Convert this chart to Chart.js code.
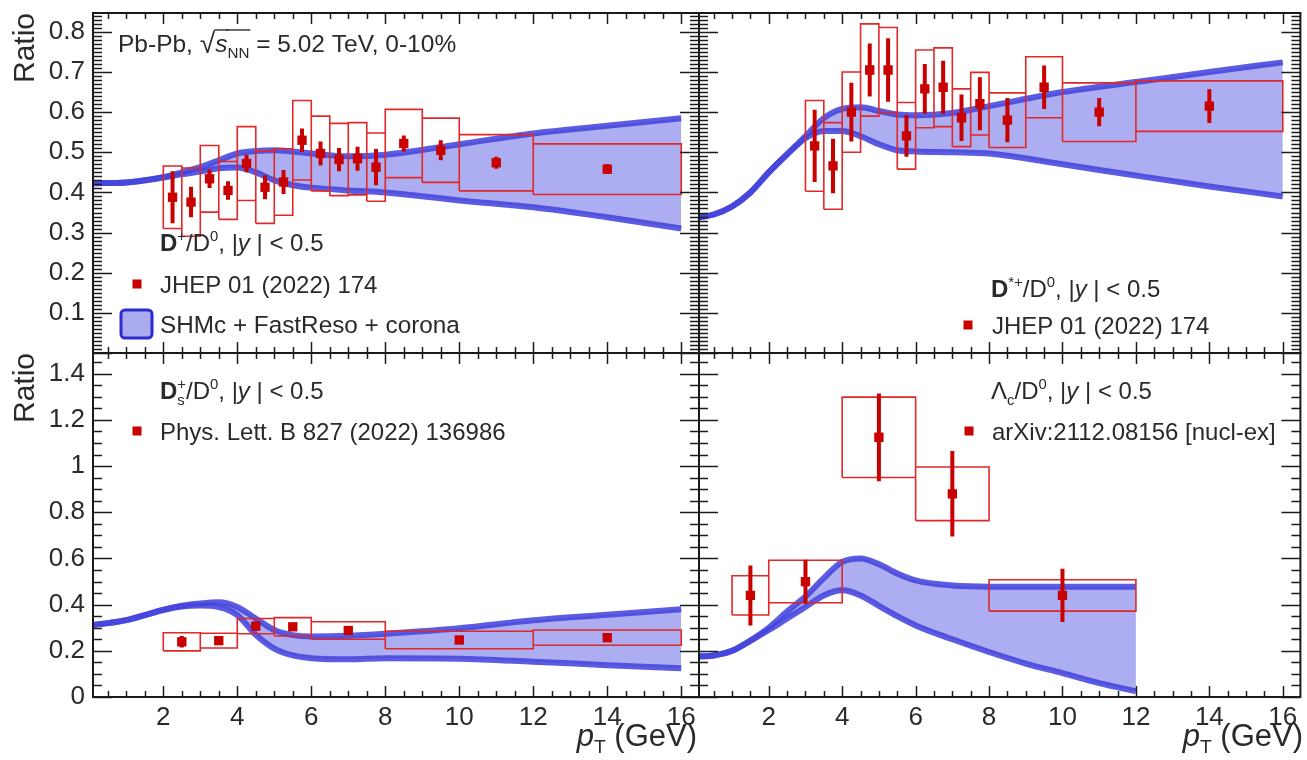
<!DOCTYPE html>
<html>
<head>
<meta charset="utf-8">
<title>Charm hadron ratios in Pb-Pb</title>
<script src="https://cdn.jsdelivr.net/npm/chart.js@4.4.1/dist/chart.umd.min.js"></script>
<style>
  html, body { margin: 0; padding: 0; background: #ffffff; }
  #wrap { position: relative; width: 1307px; height: 760px; overflow: hidden; background: #ffffff; }
  #wrap canvas { position: absolute; left: 0; top: 0; }
</style>
</head>
<body>
<div id="wrap">
  <canvas id="cTL" width="1307" height="760"></canvas>
  <canvas id="cTR" width="1307" height="760"></canvas>
  <canvas id="cBL" width="1307" height="760"></canvas>
  <canvas id="cBR" width="1307" height="760"></canvas>
</div>
<script>
// ---------- axis ticks ----------
const xTickValues = [2, 4, 6, 8, 10, 12, 14, 16];
const xTickLabels = ['2', '4', '6', '8', '10', '12', '14', '16'];
const topYTickValues = [0.1, 0.2, 0.3, 0.4, 0.5, 0.6, 0.7, 0.8];
const topYTickLabels = ['0.1', '0.2', '0.3', '0.4', '0.5', '0.6', '0.7', '0.8'];
const bottomYTickValues = [0, 0.2, 0.4, 0.6, 0.8, 1.0, 1.2, 1.4];
const bottomYTickLabels = ['0', '0.2', '0.4', '0.6', '0.8', '1', '1.2', '1.4'];

// ---------- D+/D0 (JHEP 01 (2022) 174) ----------
const dplusBinLo = [2, 2.5, 3, 3.5, 4, 4.5, 5, 5.5, 6, 6.5, 7, 7.5, 8, 9, 10, 12];
const dplusBinHi = [2.5, 3, 3.5, 4, 4.5, 5, 5.5, 6, 6.5, 7, 7.5, 8, 9, 10, 12, 16];
const dplusPt    = [2.25, 2.75, 3.25, 3.75, 4.25, 4.75, 5.25, 5.75, 6.25, 6.75, 7.25, 7.75, 8.5, 9.5, 11, 14];
const dplusVal   = [0.388, 0.376, 0.434, 0.405, 0.472, 0.413, 0.426, 0.530, 0.497, 0.482, 0.484, 0.463, 0.522, 0.505, 0.474, 0.458];
const dplusStat  = [0.065, 0.038, 0.023, 0.023, 0.022, 0.030, 0.030, 0.029, 0.030, 0.029, 0.030, 0.045, 0.020, 0.025, 0.015, 0.012];
const dplusSyst  = [0.078, 0.085, 0.083, 0.072, 0.092, 0.090, 0.083, 0.099, 0.093, 0.090, 0.090, 0.085, 0.085, 0.080, 0.070, 0.063];

// ---------- D*+/D0 (JHEP 01 (2022) 174) ----------
const dstarBinLo = [3, 3.5, 4, 4.5, 5, 5.5, 6, 6.5, 7, 7.5, 8, 9, 10, 12];
const dstarBinHi = [3.5, 4, 4.5, 5, 5.5, 6, 6.5, 7, 7.5, 8, 9, 10, 12, 16];
const dstarPt    = [3.25, 3.75, 4.25, 4.75, 5.25, 5.75, 6.25, 6.75, 7.25, 7.75, 8.5, 9.5, 11, 14];
const dstarVal   = [0.516, 0.466, 0.600, 0.705, 0.705, 0.541, 0.658, 0.662, 0.586, 0.621, 0.580, 0.662, 0.600, 0.615];
const dstarStat  = [0.090, 0.068, 0.073, 0.066, 0.079, 0.052, 0.062, 0.066, 0.058, 0.066, 0.055, 0.054, 0.035, 0.042];
const dstarSyst  = [0.113, 0.108, 0.100, 0.115, 0.106, 0.083, 0.097, 0.098, 0.072, 0.078, 0.068, 0.076, 0.073, 0.063];

// ---------- Ds+/D0 (Phys. Lett. B 827 (2022) 136986) ----------
const dsBinLo = [2, 3, 4, 5, 6, 8, 12];
const dsBinHi = [3, 4, 5, 6, 8, 12, 16];
const dsPt    = [2.5, 3.5, 4.5, 5.5, 7, 10, 14];
const dsVal   = [0.239, 0.244, 0.307, 0.304, 0.288, 0.247, 0.257];
const dsStat  = [0.025, 0.015, 0.018, 0.015, 0.012, 0.012, 0.012];
const dsSyst  = [0.039, 0.032, 0.033, 0.040, 0.038, 0.038, 0.033];

// ---------- Lambda_c/D0 (arXiv:2112.08156) ----------
const lcBinLo = [1, 2, 4, 6, 8];
const lcBinHi = [2, 4, 6, 8, 12];
const lcPt    = [1.5, 3, 5, 7, 10];
const lcVal   = [0.44, 0.50, 1.125, 0.88, 0.44];
const lcStat  = [0.13, 0.095, 0.19, 0.185, 0.115];
const lcSyst  = [0.085, 0.092, 0.174, 0.116, 0.068];

// ---------- SHMc + FastReso + corona bands ----------
const dplusModelPt = [0.1, 1, 2, 2.5, 3, 3.5, 4, 4.5, 5, 5.5, 6, 7, 8, 10, 12, 14, 16];
const dplusModelHi = [0.423, 0.425, 0.438, 0.450, 0.463, 0.480, 0.497, 0.503, 0.505, 0.502, 0.497, 0.490, 0.494, 0.520, 0.547, 0.566, 0.585];
const dplusModelLo = [0.423, 0.425, 0.437, 0.445, 0.452, 0.460, 0.462, 0.450, 0.430, 0.418, 0.412, 0.405, 0.400, 0.380, 0.363, 0.338, 0.310];

const dstarModelPt = [0.1, 0.5, 1, 1.5, 2, 2.5, 3, 3.5, 4, 4.5, 5, 5.5, 6, 7, 8, 10, 12, 14, 16];
const dstarModelHi = [0.338, 0.345, 0.365, 0.400, 0.450, 0.495, 0.540, 0.585, 0.608, 0.612, 0.603, 0.594, 0.592, 0.598, 0.615, 0.650, 0.675, 0.700, 0.724];
const dstarModelLo = [0.338, 0.345, 0.365, 0.400, 0.450, 0.495, 0.535, 0.553, 0.553, 0.540, 0.520, 0.505, 0.502, 0.500, 0.497, 0.470, 0.442, 0.415, 0.390];

const dsModelPt = [0.1, 0.5, 1, 1.5, 2, 2.5, 3, 3.5, 4, 4.5, 5, 5.5, 6, 7, 8, 10, 12, 14, 16];
const dsModelHi = [0.312, 0.320, 0.333, 0.355, 0.377, 0.395, 0.405, 0.410, 0.390, 0.340, 0.290, 0.268, 0.262, 0.265, 0.274, 0.298, 0.332, 0.356, 0.380];
const dsModelLo = [0.312, 0.320, 0.333, 0.355, 0.377, 0.392, 0.396, 0.390, 0.355, 0.270, 0.210, 0.180, 0.168, 0.163, 0.168, 0.166, 0.153, 0.138, 0.124];

const lcModelPt = [0.1, 0.5, 1, 1.5, 2, 2.5, 3, 3.5, 4, 4.5, 5, 5.5, 6, 7, 8, 9, 10, 11, 12];
const lcModelHi = [0.176, 0.180, 0.200, 0.245, 0.300, 0.370, 0.435, 0.515, 0.585, 0.600, 0.575, 0.535, 0.505, 0.483, 0.478, 0.478, 0.478, 0.478, 0.478];
const lcModelLo = [0.176, 0.180, 0.200, 0.243, 0.290, 0.340, 0.390, 0.440, 0.462, 0.440, 0.395, 0.350, 0.310, 0.250, 0.195, 0.145, 0.103, 0.060, 0.025];

// ---------- styling / layout ----------
const FONT = '"Liberation Sans", Arial, Helvetica, sans-serif';
const TEXT = '#2a2a2a';
const DATA_RED = '#c80000';
const BOX_RED = '#e02828';
const BAND_LINE = 'rgba(70, 70, 222, 0.88)';
const BAND_FILL = 'rgba(92, 92, 228, 0.5)';
const X_MIN = 0.1, X_MAX = 16.48;
const Y_TOP_MAX = 0.847, Y_BOT_MAX = 1.49;
const W = 1307, H = 760;
const LEFT = 93, MIDX = 699, RIGHT = 1303, TOP = 13, MIDY = 353, BOTTOM = 697;
const TICK_FONT = 26;

Chart.defaults.font.family = FONT;
Chart.defaults.color = TEXT;

// ---------- dataset builders ----------
function pointsSet(pt, val) {
  return {
    label: 'data', data: pt.map((x, i) => ({ x, y: val[i] })),
    showLine: false, pointStyle: 'rect', pointRadius: 6.6, pointHoverRadius: 6.6,
    backgroundColor: DATA_RED, borderWidth: 0
  };
}
function statSet(pt, val, err) {
  const d = [];
  pt.forEach((x, i) => {
    d.push({ x, y: val[i] - err[i] }, { x, y: val[i] + err[i] }, { x, y: null });
  });
  return {
    label: 'stat', data: d, showLine: true, spanGaps: false, pointRadius: 0,
    borderColor: DATA_RED, borderWidth: 4, borderCapStyle: 'butt', tension: 0
  };
}
function systSet(lo, hi, val, err) {
  const d = [];
  lo.forEach((x0, i) => {
    const x1 = hi[i], y0 = val[i] - err[i], y1 = val[i] + err[i];
    d.push({ x: x0, y: y0 }, { x: x1, y: y0 }, { x: x1, y: y1 }, { x: x0, y: y1 }, { x: x0, y: y0 }, { x: x0, y: null });
  });
  return {
    label: 'syst', data: d, showLine: true, spanGaps: false, pointRadius: 0,
    borderColor: BOX_RED, borderWidth: 1.6, tension: 0, borderJoinStyle: 'miter'
  };
}
function bandSets(pt, hi, lo) {
  const common = {
    showLine: true, pointRadius: 0, borderColor: BAND_LINE, borderWidth: 6,
    cubicInterpolationMode: 'monotone', borderCapStyle: 'butt'
  };
  return [
    Object.assign({ label: 'model upper', data: pt.map((x, i) => ({ x, y: hi[i] })), fill: '+1', backgroundColor: BAND_FILL }, common),
    Object.assign({ label: 'model lower', data: pt.map((x, i) => ({ x, y: lo[i] })), fill: false }, common)
  ];
}

// ---------- rich text (super/subscripts, italics, bold) ----------
function fontStr(size, p) {
  return (p.i ? 'italic ' : '') + (p.b ? 'bold ' : '') + size + 'px ' + FONT;
}
function partWidth(ctx, p, size) {
  if (p.stack) {
    ctx.font = fontStr(size * 0.62, {});
    return Math.max(ctx.measureText(p.sup).width, ctx.measureText(p.sub).width);
  }
  const s = (p.sup || p.sub) ? size * 0.62 : size * (p.scale || 1);
  ctx.font = fontStr(s, p);
  return ctx.measureText(p.t).width;
}
function richWidth(ctx, parts, size) {
  return parts.reduce((w, p) => w + partWidth(ctx, p, size), 0);
}
function drawRich(ctx, x, y, parts, size, align) {
  let cx = align === 'right' ? x - richWidth(ctx, parts, size) : x;
  ctx.save();
  ctx.fillStyle = TEXT;
  ctx.strokeStyle = TEXT;
  ctx.textBaseline = 'alphabetic';
  ctx.textAlign = 'left';
  for (const p of parts) {
    const w = partWidth(ctx, p, size);
    if (p.stack) {
      ctx.font = fontStr(size * 0.62, {});
      ctx.fillText(p.sup, cx, y - size * 0.40);
      ctx.fillText(p.sub, cx, y + size * 0.24);
    } else {
      const s = (p.sup || p.sub) ? size * 0.62 : size * (p.scale || 1);
      ctx.font = fontStr(s, p);
      const dy = p.sup ? -size * 0.42 : (p.sub ? size * 0.24 : (p.dy || 0) * size);
      ctx.fillText(p.t, cx, y + dy);
      if (p.over) {
        ctx.lineWidth = 1.4;
        ctx.beginPath();
        ctx.moveTo(cx - 1, y - size * 0.9);
        ctx.lineTo(cx + w + 1, y - size * 0.9);
        ctx.stroke();
      }
    }
    cx += w;
  }
  ctx.restore();
}

// ---------- frame + inward tick marks on all four sides ----------
const frameTicks = {
  id: 'frameTicks',
  afterDatasetsDraw(chart, args, opts) {
    const { ctx, chartArea: a } = chart;
    const xs = chart.scales.x, ys = chart.scales.y;
    ctx.save();
    ctx.strokeStyle = '#1c1c1c';
    ctx.lineWidth = 1.5;
    ctx.beginPath();
    const xStepMinor = opts.xMinor, xStepMajor = opts.xMajor;
    for (let k = Math.ceil(xs.min / xStepMinor - 1e-9); k * xStepMinor <= xs.max + 1e-9; k++) {
      const v = k * xStepMinor;
      const major = Math.abs(v / xStepMajor - Math.round(v / xStepMajor)) < 1e-6;
      const len = major ? 11 : 6;
      const px = Math.round(xs.getPixelForValue(v)) + 0.5;
      ctx.moveTo(px, a.bottom); ctx.lineTo(px, a.bottom - len);
      ctx.moveTo(px, a.top); ctx.lineTo(px, a.top + len);
    }
    const yStepMinor = opts.yMinor, yStepMajor = opts.yMajor;
    for (let k = Math.ceil(ys.min / yStepMinor - 1e-9); k * yStepMinor <= ys.max + 1e-9; k++) {
      const v = k * yStepMinor;
      const major = Math.abs(v / yStepMajor - Math.round(v / yStepMajor)) < 1e-6;
      const len = major ? 19 : 9;
      const py = Math.round(ys.getPixelForValue(v)) + 0.5;
      ctx.moveTo(a.left, py); ctx.lineTo(a.left + len, py);
      ctx.moveTo(a.right, py); ctx.lineTo(a.right - len, py);
    }
    ctx.stroke();
    ctx.lineWidth = 2;
    ctx.strokeStyle = '#1a1a1a';
    ctx.strokeRect(a.left, a.top, a.right - a.left, a.bottom - a.top);
    ctx.restore();
  }
};

// ---------- labels drawn inside each panel ----------
const annotations = {
  id: 'annotations',
  afterDraw(chart, args, opts) {
    if (opts.draw) opts.draw(chart.ctx, chart);
  }
};

function legendMarker(ctx, x, y) {
  ctx.save();
  ctx.fillStyle = DATA_RED;
  ctx.fillRect(x - 4.5, y - 4.5, 9, 9);
  ctx.restore();
}
function plainText(ctx, x, y, t, size) {
  ctx.save();
  ctx.font = size + 'px ' + FONT;
  ctx.fillStyle = TEXT;
  ctx.textBaseline = 'alphabetic';
  ctx.fillText(t, x, y);
  ctx.restore();
}
const ptTitle = [{ t: 'p', i: true }, { t: 'T', sub: true }, { t: ' (GeV)' }];
const rapidity = [{ t: ', |' }, { t: 'y', i: true }, { t: ' | < 0.5' }];

// ---------- panel factory ----------
function makePanel(id, cfg) {
  const showX = cfg.showXLabels, showY = cfg.showYLabels;
  const yW = showY ? LEFT : 0;
  const xH = showX ? 60 : 0;
  return new Chart(document.getElementById(id), {
    type: 'scatter',
    data: { datasets: cfg.datasets },
    plugins: [frameTicks, annotations],
    options: {
      responsive: false, animation: false, events: [], devicePixelRatio: 1,
      layout: { padding: { left: cfg.area.left - yW, top: cfg.area.top, right: W - cfg.area.right, bottom: H - cfg.area.bottom - xH } },
      plugins: {
        legend: { display: false }, tooltip: { enabled: false },
        filler: { drawTime: 'beforeDatasetsDraw' },
        frameTicks: { xMinor: 0.5, xMajor: 2, yMinor: cfg.yMinor, yMajor: cfg.yMajor },
        annotations: { draw: cfg.draw }
      },
      scales: {
        x: {
          type: 'linear', min: X_MIN, max: X_MAX,
          afterBuildTicks: s => { s.ticks = xTickValues.map(v => ({ value: v })); },
          afterFit: s => { s.height = xH; s.paddingLeft = 0; s.paddingRight = 0; },
          grid: { display: false }, border: { display: false },
          ticks: {
            display: showX, autoSkip: false, maxRotation: 0, padding: -3,
            font: { size: TICK_FONT }, color: TEXT,
            callback: (v, i) => xTickLabels[i]
          }
        },
        y: {
          type: 'linear', min: 0, max: cfg.yMax,
          afterBuildTicks: s => { s.ticks = cfg.yTicks.map(v => ({ value: v })); },
          afterFit: s => { s.width = yW; s.paddingTop = 0; s.paddingBottom = 0; },
          grid: { display: false }, border: { display: false },
          title: {
            display: showY, text: 'Ratio', align: 'end', color: TEXT,
            font: { size: 30 }, padding: { top: 8, bottom: 0 }
          },
          ticks: {
            display: showY, autoSkip: false, padding: 0,
            font: { size: TICK_FONT }, color: TEXT,
            callback: (v, i) => cfg.yLabels[i]
          }
        }
      }
    }
  });
}

// top left: D+/D0
makePanel('cTL', {
  area: { left: LEFT, right: MIDX, top: TOP, bottom: MIDY },
  showXLabels: false, showYLabels: true,
  yMax: Y_TOP_MAX, yTicks: topYTickValues, yLabels: topYTickLabels, yMinor: 0.01, yMajor: 0.1,
  datasets: [
    pointsSet(dplusPt, dplusVal),
    statSet(dplusPt, dplusVal, dplusStat),
    systSet(dplusBinLo, dplusBinHi, dplusVal, dplusSyst),
    ...bandSets(dplusModelPt, dplusModelHi, dplusModelLo)
  ],
  draw(ctx) {
    drawRich(ctx, 118, 52, [
      { t: 'Pb-Pb, ' }, { t: '\u221A', scale: 1.15, dy: 0.06 }, { t: 's', i: true, over: true }, { t: 'NN', sub: true, over: true },
      { t: ' = 5.02 TeV, 0-10%' }
    ], 24.5);
    drawRich(ctx, 160, 251, [{ t: 'D', b: true }, { t: '+', sup: true }, { t: '/D' }, { t: '0', sup: true }, ...rapidity], 24);
    legendMarker(ctx, 137, 284);
    plainText(ctx, 160, 293, 'JHEP 01 (2022) 174', 24);
    ctx.save();
    ctx.beginPath();
    ctx.roundRect(121, 310, 31, 28, 4);
    ctx.fillStyle = '#aaaaee';
    ctx.fill();
    ctx.lineWidth = 3;
    ctx.strokeStyle = '#2c2cd0';
    ctx.stroke();
    ctx.restore();
    plainText(ctx, 160, 333, 'SHMc + FastReso + corona', 24.3);
  }
});

// top right: D*+/D0
makePanel('cTR', {
  area: { left: MIDX, right: RIGHT, top: TOP, bottom: MIDY },
  showXLabels: false, showYLabels: false,
  yMax: Y_TOP_MAX, yTicks: topYTickValues, yLabels: topYTickLabels, yMinor: 0.01, yMajor: 0.1,
  datasets: [
    pointsSet(dstarPt, dstarVal),
    statSet(dstarPt, dstarVal, dstarStat),
    systSet(dstarBinLo, dstarBinHi, dstarVal, dstarSyst),
    ...bandSets(dstarModelPt, dstarModelHi, dstarModelLo)
  ],
  draw(ctx) {
    drawRich(ctx, 991, 297, [{ t: 'D', b: true }, { t: '*+', sup: true }, { t: '/D' }, { t: '0', sup: true }, ...rapidity], 24);
    legendMarker(ctx, 968, 325);
    plainText(ctx, 992, 334, 'JHEP 01 (2022) 174', 24);
  }
});

// bottom left: Ds+/D0
makePanel('cBL', {
  area: { left: LEFT, right: MIDX, top: MIDY, bottom: BOTTOM },
  showXLabels: true, showYLabels: true,
  yMax: Y_BOT_MAX, yTicks: bottomYTickValues, yLabels: bottomYTickLabels, yMinor: 0.05, yMajor: 0.2,
  datasets: [
    pointsSet(dsPt, dsVal),
    statSet(dsPt, dsVal, dsStat),
    systSet(dsBinLo, dsBinHi, dsVal, dsSyst),
    ...bandSets(dsModelPt, dsModelHi, dsModelLo)
  ],
  draw(ctx) {
    drawRich(ctx, 160, 399, [{ t: 'D', b: true }, { stack: true, sup: '+', sub: 's' }, { t: '/D' }, { t: '0', sup: true }, ...rapidity], 24);
    legendMarker(ctx, 137, 431);
    plainText(ctx, 160, 440, 'Phys. Lett. B 827 (2022) 136986', 24);
    drawRich(ctx, 697, 746, ptTitle, 31, 'right');
  }
});

// bottom right: Lambda_c/D0
makePanel('cBR', {
  area: { left: MIDX, right: RIGHT, top: MIDY, bottom: BOTTOM },
  showXLabels: true, showYLabels: false,
  yMax: Y_BOT_MAX, yTicks: bottomYTickValues, yLabels: bottomYTickLabels, yMinor: 0.05, yMajor: 0.2,
  datasets: [
    pointsSet(lcPt, lcVal),
    statSet(lcPt, lcVal, lcStat),
    systSet(lcBinLo, lcBinHi, lcVal, lcSyst),
    ...bandSets(lcModelPt, lcModelHi, lcModelLo)
  ],
  draw(ctx) {
    drawRich(ctx, 991, 399, [{ t: '\u039B' }, { t: 'c', sub: true }, { t: '/D' }, { t: '0', sup: true }, ...rapidity], 24);
    legendMarker(ctx, 969, 431);
    plainText(ctx, 992, 440, 'arXiv:2112.08156 [nucl-ex]', 24);
    drawRich(ctx, 1303, 746, ptTitle, 31, 'right');
  }
});
</script>
</body>
</html>
